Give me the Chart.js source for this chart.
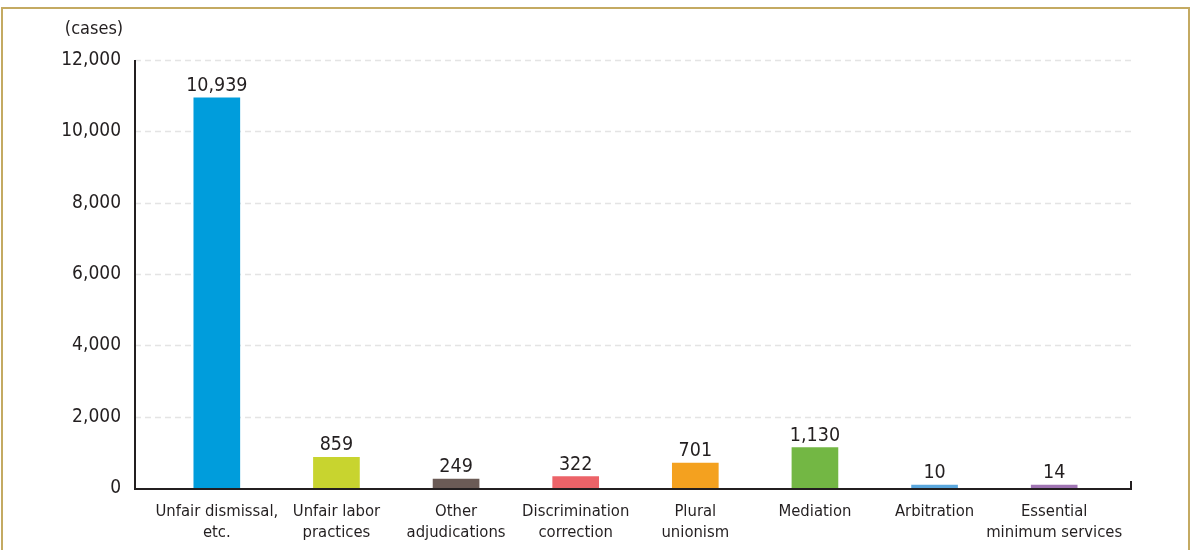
<!DOCTYPE html>
<html>
<head>
<meta charset="utf-8">
<script src="https://cdn.jsdelivr.net/npm/chart.js@4"></script>
<style>
  html, body { margin: 0; padding: 0; background: #fff; }
  #wrap { width: 1192px; height: 550px; position: relative; }
</style>
</head>
<body>
<div id="wrap"><canvas id="c" width="1192" height="550"></canvas></div>
<script>
  // Chart data
  const categories = [
    ['Unfair dismissal,', 'etc.'],
    ['Unfair labor', 'practices'],
    ['Other', 'adjudications'],
    ['Discrimination', 'correction'],
    ['Plural', 'unionism'],
    ['Mediation'],
    ['Arbitration'],
    ['Essential', 'minimum services']
  ];
  const caseCounts = [10939, 859, 249, 322, 701, 1130, 10, 14];
  const barColors = ['#009ddc', '#c8d42f', '#6b5b56', '#ec6368', '#f4a11f', '#73b744', '#5ba7dd', '#a074b3'];
  const yTicks = [0, 2000, 4000, 6000, 8000, 10000, 12000];
  const unitLabel = '(cases)';

  const FONT = "'DejaVu Sans Condensed', 'Noto Sans', sans-serif";
  const TEXT = '#231f20';

  // frame, axis lines, dashed grid, value labels
  const decor = {
    id: 'decor',
    beforeDatasetsDraw(chart) {
      const ctx = chart.ctx;
      const y = chart.scales.y;
      const x0 = 135, x1 = 1132;
      ctx.save();
      ctx.strokeStyle = '#e4e4e4';
      ctx.lineWidth = 1.5;
      ctx.setLineDash([6, 4]);
      yTicks.forEach(function(t) {
        if (t === 0) return;
        const py = Math.round(y.getPixelForValue(t)) + 0.5;
        ctx.beginPath();
        ctx.moveTo(x0, py);
        ctx.lineTo(x1, py);
        ctx.stroke();
      });
      ctx.restore();
    },
    afterDatasetsDraw(chart) {
      const ctx = chart.ctx;
      const y = chart.scales.y;
      const base = y.getPixelForValue(0);
      const top = y.getPixelForValue(12000);
      ctx.save();
      // frame
      ctx.strokeStyle = '#c4aa62';
      ctx.lineWidth = 2;
      ctx.strokeRect(2, 8, 1187, 560);
      // axes
      ctx.strokeStyle = '#231f20';
      ctx.lineWidth = 2;
      ctx.beginPath();
      ctx.moveTo(135, top);
      ctx.lineTo(135, base + 1);
      ctx.lineTo(1131, base + 1);
      ctx.lineTo(1131, base - 7);
      ctx.stroke();
      // unit
      ctx.fillStyle = TEXT;
      ctx.font = '18px ' + FONT;
      ctx.textAlign = 'center';
      ctx.textBaseline = 'alphabetic';
      ctx.fillText(unitLabel, 94, 34);
      // value labels
      const meta = chart.getDatasetMeta(0);
      ctx.font = '19.5px ' + FONT;
      meta.data.forEach(function(bar, i) {
        ctx.fillText(caseCounts[i].toLocaleString('en-US'), bar.x, bar.y - 7);
      });
      ctx.restore();
    }
  };

  new Chart(document.getElementById('c'), {
    type: 'bar',
    data: {
      labels: categories,
      datasets: [{
        data: caseCounts,
        backgroundColor: barColors,
        borderWidth: 0,
        barThickness: 46,
        minBarLength: 3
      }]
    },
    options: {
      responsive: false,
      animation: false,
      layout: { padding: { left: 0, right: 78, top: 60, bottom: 0 } },
      plugins: { legend: { display: false }, tooltip: { enabled: false } },
      scales: {
        x: {
          grid: { display: false, drawTicks: false },
          border: { display: false },
          ticks: {
            color: TEXT,
            font: { family: FONT, size: 16.5, lineHeight: 1.3 },
            padding: 13,
            maxRotation: 0,
            autoSkip: false
          },
          afterFit: function(s) { s.height = 62; }
        },
        y: {
          min: 0,
          max: 12000,
          grid: { display: false, drawTicks: false },
          border: { display: false },
          afterBuildTicks: function(s) { s.ticks = yTicks.map(function(v) { return { value: v }; }); },
          ticks: {
            color: TEXT,
            font: { family: FONT, size: 19 },
            padding: 36,
            callback: function(v) { return v.toLocaleString('en-US'); }
          },
          afterFit: function(s) { s.width = 157; }
        }
      }
    },
    plugins: [decor]
  });
</script>
</body>
</html>
